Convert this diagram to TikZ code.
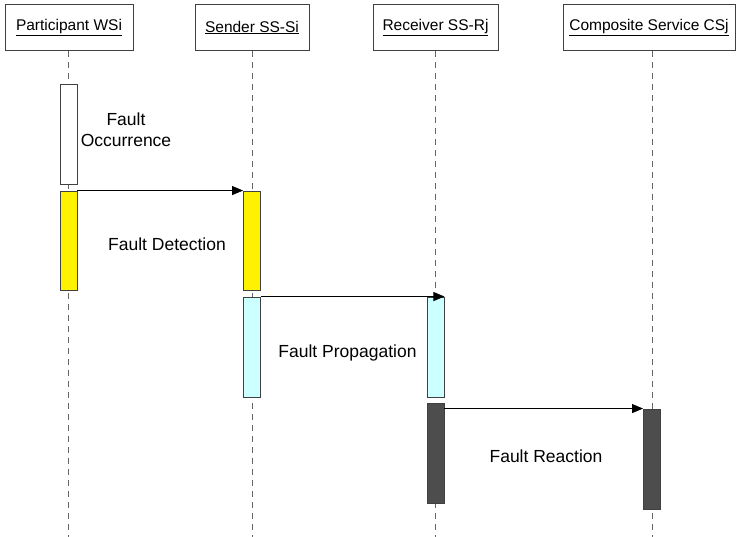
\documentclass[tikz,border=0pt]{standalone}
\usepackage{fontspec}
\setmainfont{Liberation Sans}
\usetikzlibrary{arrows.meta}
\definecolor{barcyan}{HTML}{CCFFFF}
\definecolor{bardark}{HTML}{4D4D4D}
\definecolor{edgegray}{HTML}{404040}
\begin{document}
\begin{tikzpicture}[x=1pt,y=-1pt,
  headbox/.style={draw=edgegray,line width=0.9pt,fill=white,minimum height=46pt,inner sep=0pt,
    font=\fontsize{15.5}{18}\selectfont},
  lifeline/.style={draw=gray!80!black,line width=0.9pt,dash pattern=on 6pt off 5pt},
  actbar/.style={draw=edgegray,line width=0.9pt,minimum width=17pt,inner sep=0pt},
  msg/.style={draw=black,line width=0.8pt,-{Triangle[length=11pt,width=9pt]}},
  lbl/.style={font=\fontsize{17.5}{21}\selectfont,align=center,inner sep=0pt}]
\useasboundingbox (0,0) rectangle (736,537);
% headers
\node[headbox,minimum width=128pt] (hP) at (69,27.5) {\underline{Participant WSi}};
\node[headbox,minimum width=114pt] (hS) at (252,27.5) {\underline{Sender SS-Si}};
\node[headbox,minimum width=125pt] (hR) at (435.5,27.5) {\underline{Receiver SS-Rj}};
\node[headbox,minimum width=172pt] (hC) at (649,27.5) {\underline{Composite Service CSj}};
% lifeline ends
\coordinate (eP) at (68.5,537);
\coordinate (eS) at (252,537);
\coordinate (eR) at (435.5,537);
\coordinate (eC) at (652,537);
\draw[lifeline] (hP.south -| eP) -- (eP);
\draw[lifeline] (hS.south -| eS) -- (eS);
\draw[lifeline] (hR.south -| eR) -- (eR);
\draw[lifeline] (hC.south -| eC) -- (eC);
% activation bars
\node[actbar,fill=white,minimum height=100pt] (p1) at (68.5,134) {};
\node[actbar,fill=yellow,minimum height=99pt] (p2) at (68.5,240.5) {};
\node[actbar,fill=yellow,minimum height=99pt] (s1) at (252,240.5) {};
\node[actbar,fill=barcyan,minimum height=100pt] (s2) at (252,347) {};
\node[actbar,fill=barcyan,minimum height=100pt] (r1) at (435.5,347) {};
\node[actbar,fill=bardark,minimum height=100pt] (r2) at (435.5,453) {};
\node[actbar,fill=bardark,minimum height=100pt] (c1) at (652,459) {};
% messages
\draw[msg] (p2.north east) -- (s1.north west);
\draw[msg] (s2.north east) -- (r1.north east);
\draw[msg] (r2.east |- c1.north) -- (c1.north west);
% labels
\node[lbl] (tOcc) at (126,130) {Fault\\Occurrence};
\node[lbl] (tDet) at (167,244) {Fault Detection};
\node[lbl] (tProp) at (347.5,353) {Fault Propagation};
\node[lbl] (tReac) at (546,456) {Fault Reaction};
\end{tikzpicture}
\end{document}
